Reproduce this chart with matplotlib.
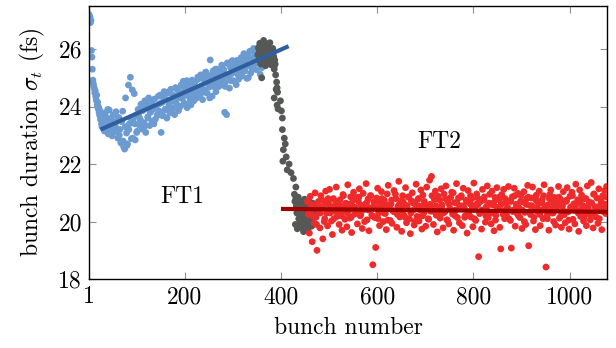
import numpy as np
import matplotlib
matplotlib.use("Agg")
import matplotlib.pyplot as plt

plt.rcParams.update({
    "font.family": ["cmr10", "DejaVu Serif"],
    "mathtext.fontset": "cm",
    "axes.formatter.use_mathtext": True,
    "axes.unicode_minus": False,
})

# ---------------- data ----------------
# FT1 (blue): every bunch for 1..30, then every second bunch up to 365
ft1_bunch = list(range(1, 31)) + list(range(31, 366, 2))
ft1_vals = [
    27.20, 27.05, 27.12, 26.92, 27.00, 25.95, 25.72, 25.30, 24.92, 24.80,
    24.70, 24.62, 24.48, 24.55, 24.35, 24.22, 24.40, 24.05, 24.15, 23.92,
    23.98, 23.80, 23.70, 23.86, 23.55, 23.62, 23.40, 23.30, 23.72, 23.25,
    # 31..59
    23.45, 23.15, 23.78, 23.38, 23.60, 23.05, 23.88, 23.30, 23.52, 22.98,
    23.70, 23.24, 23.46, 23.82, 23.12,
    # 61..105
    22.90, 23.62, 23.20, 22.74, 23.48, 23.84, 22.60, 22.52, 24.30, 23.08,
    22.70, 24.75, 23.40, 25.02, 22.88, 24.58, 23.56, 24.45, 22.84, 23.70,
    23.14, 23.90, 23.36,
    # 107..145
    23.58, 24.08, 23.22, 23.86, 23.44, 24.20, 23.10, 23.96, 23.64, 24.30,
    23.34, 23.80, 24.12, 23.48, 23.92, 24.26, 23.56, 24.02, 23.72, 24.36,
    # 147..187
    23.84, 24.40, 23.10, 24.14, 23.68, 24.52, 23.90, 24.24, 23.60, 24.46,
    24.06, 23.78, 24.60, 24.18, 23.94, 24.38, 23.72, 24.66, 24.10, 24.32,
    23.86,
    # 189..229
    24.50, 24.00, 24.76, 24.28, 24.88, 24.12, 24.60, 24.42, 23.96, 24.80,
    24.34, 24.70, 24.06, 24.92, 24.46, 24.20, 24.84, 24.56, 24.30, 25.02,
    24.64,
    # 231..271
    24.40, 25.10, 24.72, 24.24, 24.96, 24.58, 25.18, 24.84, 24.46, 25.04,
    24.68, 25.62, 24.90, 24.36, 25.24, 24.78, 25.08, 24.52, 25.30, 24.94,
    24.70,
    # 273..313
    25.20, 24.80, 25.44, 24.98, 25.28, 23.80, 24.86, 23.72, 25.52, 25.06,
    24.64, 25.36, 25.14, 25.60, 24.90, 25.40, 25.22, 24.76, 25.58, 25.10,
    25.46,
    # 315..365
    25.30, 25.70, 25.06, 25.52, 25.84, 25.24, 25.62, 24.98, 25.78, 25.42,
    25.92, 25.16, 25.66, 25.36, 26.02, 25.50, 25.80, 25.28, 25.94, 25.58,
    25.70, 25.12, 25.86, 25.46, 26.04, 25.64,
]
# FT1 additional bunches (32, 36, ..., 364)
ft1b_bunch = list(range(32, 365, 4))
ft1b_vals = [
    23.60, 23.20, 23.90, 23.40, 23.10, 23.70, 23.30, 23.50,
    23.00, 23.50, 22.80, 23.30, 22.65, 23.20, 23.60, 22.90, 23.40, 23.10, 23.70,
    23.50, 23.90, 23.30, 24.10, 23.60, 23.80, 24.20, 23.40, 24.00, 23.70,
    24.10, 23.70, 24.30, 23.90, 24.50, 24.00, 23.80, 24.40, 24.20, 24.60, 24.00,
    24.30, 24.70, 24.10, 24.90, 24.50, 24.20, 24.80, 24.40, 24.60, 24.95,
    24.60, 25.00, 24.50, 25.20, 24.80, 24.30, 25.10, 24.70, 25.30, 24.90, 25.00,
    25.00, 25.30, 24.70, 25.50, 25.10, 24.90, 25.40, 25.20, 25.60, 24.95,
    25.50, 25.20, 25.80, 25.40, 25.00, 25.70, 25.30, 25.90, 25.50, 25.60,
    25.80, 25.35, 25.70,
]

# transition (gray): explicit bunch numbers and values
trans_bunch = (
    list(range(352, 389))
    + [386, 389, 391, 392, 393, 386, 399, 394, 401, 403, 403, 407, 409, 405,
       411, 404, 417, 413, 421, 426, 431, 390, 392]
    + list(range(428, 469))
)
trans_vals = [
    25.80, 26.05, 25.62, 25.90, 26.20, 25.70, 25.48, 25.95, 25.00, 26.12,
    25.76, 25.55, 26.30, 25.85, 25.66, 26.00, 25.42, 25.92, 26.18, 25.58,
    25.78, 26.08, 25.50, 25.88, 25.70, 26.22, 25.60, 25.96, 25.45, 25.82,
    25.66, 26.02, 25.52, 25.74, 25.40, 25.62, 25.48,
    25.30, 25.10, 24.85, 24.65, 24.50, 24.30, 24.20, 23.92, 23.85, 23.60,
    23.20, 22.90, 22.70, 22.50, 22.25, 22.10, 22.00, 21.80, 21.70, 21.50,
    21.20, 24.60, 24.05,
    20.95, 20.70, 19.90, 20.80, 20.55, 20.30, 19.75, 20.62, 20.85, 20.10,
    20.45, 19.95, 20.72, 20.35, 20.58, 19.80, 20.20, 20.66, 20.40, 19.65,
    20.50, 20.78, 20.05, 20.32, 19.88, 20.60, 20.44, 20.15, 19.72, 20.52,
    20.26, 20.70, 19.98, 20.38, 20.56, 20.12, 19.84, 20.46, 20.64, 20.22,
    20.34,
]

# FT2 (red): every second bunch from 455
ft2_start = 455
ft2_step = 2
ft2_vals = [
    20.70, 20.25, 19.60, 20.88, 20.40, 19.30, 20.55, 19.95, 21.00, 20.15,
    19.00, 20.62, 20.34, 19.78, 20.90, 20.48, 19.40, 20.72, 20.10, 21.06,
    20.30, 19.85, 20.66, 21.12, 20.44, 20.02, 19.55, 20.80, 20.36, 20.58,
    21.20, 20.18, 20.50, 19.90, 20.76, 20.32, 19.70, 20.94, 20.46, 20.08,
    20.64, 19.82, 21.28, 20.40, 20.12, 20.86, 19.62, 20.54, 21.02, 20.26,
    20.84, 20.36, 19.92, 20.70, 21.14, 20.20, 20.56, 19.76, 20.98, 20.42,
    20.60, 21.32, 20.06, 20.78, 19.68, 20.48, 20.90, 20.22, 18.50, 20.68,
    20.14, 19.10, 20.82, 21.16, 20.30, 19.86, 20.66, 21.04, 20.44, 20.00,
    20.74, 20.28, 19.72, 20.96, 21.26, 20.50, 20.04, 20.62, 19.94, 20.38,
    21.08, 20.34, 20.80, 19.80, 20.52, 21.40, 20.16, 20.70, 19.66, 20.90,
    20.24, 20.58, 21.18, 19.96, 20.46, 20.86, 20.10, 19.58, 20.72, 21.00,
    20.40, 19.88, 20.66, 21.30, 20.18, 20.78, 20.02, 20.54, 21.10, 19.74,
    20.92, 20.30, 20.60, 19.84, 21.20, 20.48, 20.08, 21.44, 20.36, 21.57,
    20.44, 19.90, 20.76, 21.06, 20.22, 19.64, 20.88, 20.50, 20.12, 21.14,
    20.58, 19.78, 20.96, 20.34, 21.24, 20.06, 20.70, 19.92, 20.46, 20.84,
    21.02, 20.26, 19.70, 20.66, 20.40, 21.32, 20.14, 20.82, 19.96, 20.54,
    20.90, 19.86, 21.16, 20.48, 20.20, 20.74, 19.60, 21.08, 20.32, 20.62,
    20.16, 20.80, 19.82, 21.34, 20.42, 20.04, 20.96, 20.58, 18.78, 20.28,
    20.70, 19.74, 21.12, 20.36, 20.86, 19.98, 20.52, 21.24, 20.14, 20.64,
    20.30, 19.92, 21.06, 20.58, 19.68, 20.84, 20.22, 21.18, 20.44, 20.76,
    19.80, 19.05, 20.94, 20.38, 21.12, 20.10, 20.66, 20.26, 20.50, 21.22,
    20.72, 20.04, 19.08, 20.86, 20.40, 21.16, 19.84, 20.60, 20.28, 20.98,
    20.48, 20.14, 20.90, 19.76, 20.68, 21.04, 20.32, 19.90, 20.80, 21.26,
    19.16, 20.56, 20.24, 20.82, 21.20, 20.02, 20.46, 19.72, 20.92, 20.36,
    20.64, 21.06, 19.86, 20.40, 20.76, 20.10, 21.28, 20.54, 18.42, 20.20,
    20.58, 19.70, 20.94, 21.10, 20.30, 20.68, 20.00, 20.84, 19.88, 20.46,
    20.66, 21.22, 20.12, 20.78, 19.80, 20.52, 21.04, 20.24, 19.96, 20.70,
    21.18, 20.34, 19.74, 20.88, 20.50, 21.02, 20.08, 20.62, 19.92, 21.30,
    20.40, 20.76, 19.66, 21.10, 20.18, 20.92, 20.56, 20.02, 20.80, 20.30,
    19.86, 21.24, 20.44, 20.68, 20.06, 21.36, 20.26, 19.78, 20.96, 20.52,
    20.16, 20.82, 19.94, 21.14, 20.38, 20.62, 19.72, 20.90, 20.48, 21.08,
    20.28, 21.22, 20.60,
]
# FT2 additional bunches (458, 462, ..., 1078)
ft2b_bunch = list(range(458, 1079, 4))
ft2b_vals = [
    20.40, 20.60, 20.20, 20.50, 19.90, 20.70, 20.30, 20.50, 20.00, 20.60,
    20.80, 20.30, 20.50, 20.10, 20.70, 20.40, 20.60, 20.20, 20.90, 20.45,
    20.30, 20.60, 20.15, 20.75, 20.50, 20.35, 20.85, 20.25, 20.55, 20.00,
    20.65, 20.40, 20.90, 20.20, 20.55, 20.70, 20.10, 20.50, 20.80, 20.30,
    20.60, 20.05, 20.45, 20.75, 20.35, 20.95, 20.25, 20.60, 20.40, 20.70,
    20.15, 20.55, 20.85, 20.30, 20.65, 20.00, 20.50, 20.80, 20.40, 20.20,
    20.70, 20.45, 20.10, 20.60, 20.90, 20.35, 20.55, 20.25, 20.75, 20.50,
    20.30, 20.80, 20.05, 20.60, 20.40, 21.00, 20.20, 20.65, 20.45, 20.85,
    20.55, 20.15, 20.70, 20.35, 20.90, 20.50, 20.10, 20.60, 20.80, 20.30,
    20.40, 20.75, 20.20, 20.55, 20.95, 20.30, 20.65, 20.05, 20.50, 20.85,
    20.60, 20.25, 20.80, 20.45, 20.10, 20.70, 20.35, 20.90, 20.50, 20.20,
    20.70, 20.40, 20.00, 20.60, 20.85, 20.30, 20.55, 20.15, 20.75, 20.45,
    20.25, 20.65, 20.90, 20.40, 20.10, 20.80, 20.50, 20.30, 20.70, 20.55,
    20.85, 20.20, 20.60, 20.35, 20.75, 20.05, 20.50, 20.90, 20.40, 20.60,
    20.30, 20.70, 20.45, 20.15, 20.80, 20.55, 20.25, 20.65, 20.95, 20.40,
    20.50, 20.10, 20.75, 20.35, 20.60, 20.85,
]

# linear fits
fit1_bunch = [25, 416]
fit1_vals = [23.20, 26.10]
fit2_bunch = [400, 1080]
fit2_vals = [20.44, 20.34]

labels = ["FT1", "FT2"]
label_pos_bunch = [196, 730]
label_pos_vals = [20.85, 22.77]

xticks = [1, 200, 400, 600, 800, 1000]
yticks = [18, 20, 22, 24, 26]

# ---------------- plot ----------------
c_blue = "#6c9bd2"
c_gray = "#555855"
c_red = "#ee2a2a"
c_fit1 = "#2f5f9f"
c_fit2 = "#a00000"

fig = plt.figure(figsize=(6.16, 3.48), dpi=100)
ax = fig.add_axes([0.1445, 0.198, 0.841, 0.785])

ft2_x = np.arange(ft2_start, ft2_start + ft2_step * len(ft2_vals), ft2_step)

ms = 24
ax.scatter(ft1_bunch + ft1b_bunch, ft1_vals + ft1b_vals, s=ms, color=c_blue,
           edgecolors="none", zorder=2)
ax.scatter(trans_bunch, trans_vals, s=ms, color=c_gray, edgecolors="none", zorder=3)
ax.scatter(np.concatenate([ft2_x, ft2b_bunch]), ft2_vals + ft2b_vals, s=ms,
           color=c_red, edgecolors="none", zorder=4)

ax.plot(fit1_bunch, fit1_vals, color=c_fit1, lw=3.0, zorder=5, solid_capstyle="butt")
ax.plot(fit2_bunch, fit2_vals, color=c_fit2, lw=3.0, zorder=5, solid_capstyle="butt")

for t, bx, by in zip(labels, label_pos_bunch, label_pos_vals):
    ax.text(bx, by, t, fontsize=17, ha="center", va="center", zorder=6)

ax.set_xlim(1, 1078)
ax.set_ylim(18, 27.5)
ax.set_xticks(xticks)
ax.set_xticklabels([str(v) for v in xticks])
ax.set_yticks(yticks)
ax.set_yticklabels([str(v) for v in yticks])
ax.tick_params(axis="both", direction="in", length=5, width=0.8, color="#909090",
               labelsize=17, top=True, right=True, pad=5)
for s in ax.spines.values():
    s.set_linewidth(1.0)
    s.set_color("black")

ax.set_xlabel("bunch number", fontsize=17, labelpad=6)
ax.set_ylabel(r"bunch duration $\sigma_t$ (fs)", fontsize=17, labelpad=8)

fig.savefig("out.png", dpi=100)
